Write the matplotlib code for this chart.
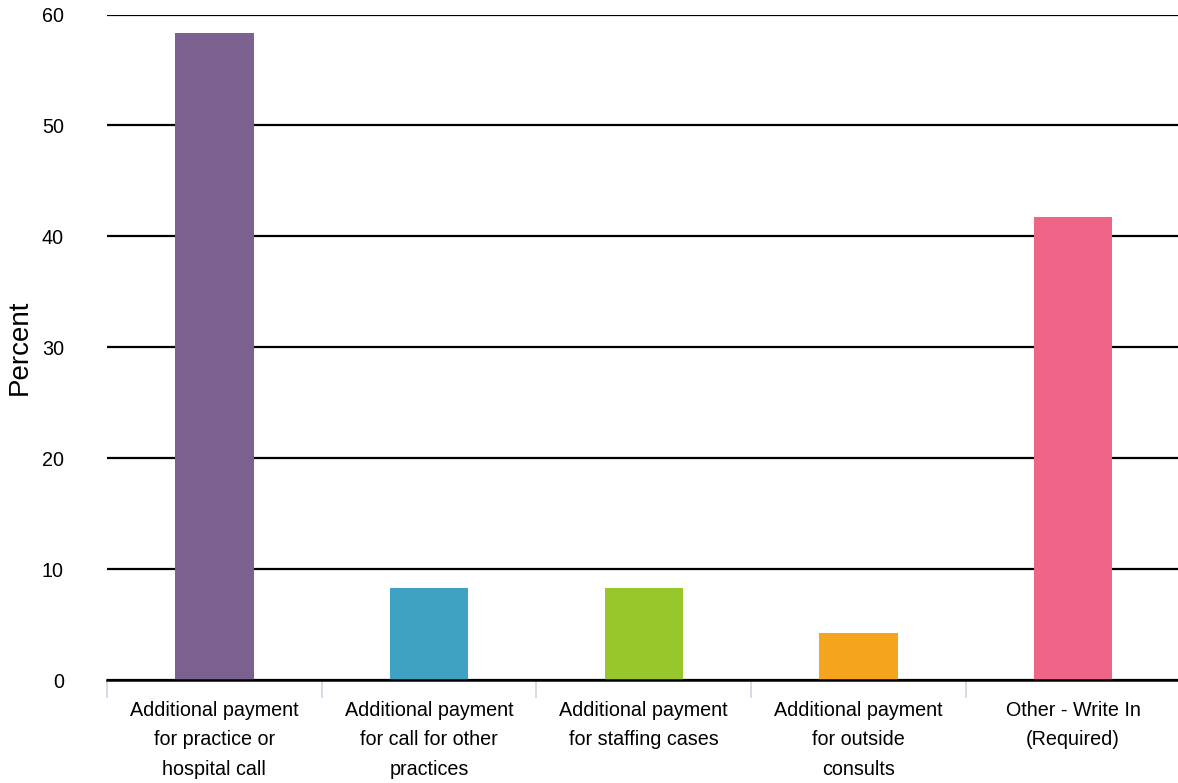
import matplotlib.pyplot as plt
import numpy as np

plt.rcParams['font.family'] = ['Liberation Sans', 'DejaVu Sans']

categories = ['Additional payment\nfor practice or\nhospital call',
              'Additional payment\nfor call for other\npractices',
              'Additional payment\nfor staffing cases',
              'Additional payment\nfor outside\nconsults',
              'Other - Write In\n(Required)']
percent = [58.3, 8.3, 8.3, 4.2, 41.7]
colors = ['#7b618f', '#40a2c2', '#97c72a', '#f4a41d', '#f06487']
yticks = [0, 10, 20, 30, 40, 50, 60]

fig = plt.figure(figsize=(11.78, 7.83), dpi=100)
ax = fig.add_axes([107/1178, 1-680/783, 1-107/1178+0.002, (680-14.5)/783])

x = np.arange(len(categories))
ax.bar(x, percent, width=0.365, color=colors, zorder=3)

ax.set_ylim(0, 60)
ax.set_xlim(-0.5, len(categories)-0.5)
ax.set_yticks(yticks)
ax.yaxis.grid(True, color='black', linewidth=1.6, zorder=1)
ax.set_axisbelow(True)
for s in ['top', 'right', 'left']:
    ax.spines[s].set_visible(False)
ax.spines['bottom'].set_linewidth(1.8)
ax.spines['bottom'].set_zorder(4)

ax.set_xticks(x)
ax.set_xticklabels(categories, fontsize=14.2, linespacing=1.7, va='top')
ax.tick_params(axis='x', which='major', length=0, pad=15)
ax.set_xticks(np.arange(-0.5, len(categories), 1.0), minor=True)
ax.tick_params(axis='x', which='minor', length=13, width=1.2, color='#c9d5e8')
ax.tick_params(axis='y', length=0, pad=31, labelsize=14.2)

ax.set_ylabel('Percent', fontsize=20)
ax.yaxis.set_label_coords(-0.069, 0.5)

fig.savefig('out.png', dpi=100)
